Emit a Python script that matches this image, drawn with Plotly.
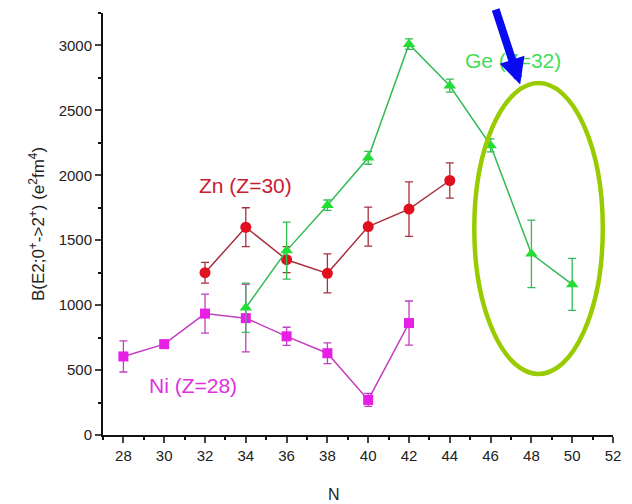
import plotly.graph_objects as go

ni_n = [28, 30, 32, 34, 36, 38, 40, 42]
ni_b = [605, 700, 935, 900, 760, 630, 270, 862]
ni_err = [120, 20, 150, 260, 70, 80, 50, 170]

zn_n = [32, 34, 36, 38, 40, 42, 44]
zn_b = [1250, 1600, 1350, 1245, 1605, 1740, 1960]
zn_err = [80, 150, 100, 150, 150, 210, 135]

ge_n = [34, 36, 38, 40, 42, 44, 46, 48, 50]
ge_b = [980, 1420, 1770, 2135, 3010, 2690, 2230, 1395, 1160]
ge_err = [190, 220, 40, 50, 40, 50, 50, 260, 200]

x_ticks = list(range(28, 53, 2))
y_ticks = list(range(0, 3001, 500))

FONT = "Arial, Liberation Sans, sans-serif"

fig = go.Figure()

def add_series(xs, ys, errs, color, line_color, symbol, size):
    fig.add_trace(go.Scatter(
        x=xs, y=ys, mode="lines+markers",
        line=dict(color=line_color, width=1.5),
        marker=dict(symbol=symbol, size=size, color=color),
        error_y=dict(type="data", array=errs, visible=True, color=line_color,
                     thickness=1.3, width=4),
        showlegend=False,
    ))

add_series(ni_n, ni_b, ni_err, "#e61ee6", "#c040c0", "square", 10)
add_series(zn_n, zn_b, zn_err, "#e0101e", "#a83040", "circle", 11)
add_series(ge_n, ge_b, ge_err, "#22dd33", "#33bb55", "triangle-up", 11)

fig.add_annotation(x=34.0, y=1920, text="Zn (Z=30)", showarrow=False,
                   font=dict(family=FONT, size=21, color="#c82030"))
fig.add_annotation(x=31.4, y=385, text="Ni (Z=28)", showarrow=False,
                   font=dict(family=FONT, size=21, color="#e030e0"))
fig.add_annotation(x=47.1, y=2885, text="Ge (Z=32)", showarrow=False,
                   font=dict(family=FONT, size=21, color="#44dd55"))
fig.add_annotation(x=0.452, y=-0.165, xref="paper", yref="paper", text="N",
                   showarrow=False, font=dict(family=FONT, size=16, color="#222"))

fig.add_shape(type="circle", xref="x", yref="y",
              x0=45.2, x1=51.5, y0=470, y1=2710,
              line=dict(color="#99cc00", width=4.5))

fig.add_annotation(x=47.45, y=2700, ax=-25, ay=-92, text="", showarrow=True,
                   arrowhead=2, arrowsize=0.65, arrowwidth=8, arrowcolor="#0a0af0")

axis_font = dict(family=FONT, size=15, color="#222")
fig.update_xaxes(range=[27, 52], tickvals=x_ticks, ticks="outside", ticklen=6,
                 tickwidth=1.5, showline=True, linecolor="#111", linewidth=2,
                 showgrid=False, zeroline=False, tickfont=axis_font,
                 minor=dict(dtick=1, tick0=27, ticks="outside", ticklen=3, tickcolor="#111"))
fig.update_yaxes(range=[0, 3250], tickvals=y_ticks, ticks="outside", ticklen=6,
                 tickwidth=1.5, showline=True, linecolor="#111", linewidth=2,
                 showgrid=False, zeroline=False, tickfont=axis_font,
                 minor=dict(dtick=250, tick0=0, ticks="outside", ticklen=3, tickcolor="#111"),
                 title=dict(text="B(E2;0<sup>+</sup>->2<sup>+</sup>) (e<sup>2</sup>fm<sup>4</sup>)",
                            font=dict(family=FONT, size=17, color="#222"),
                            standoff=10))

fig.update_layout(width=632, height=504, plot_bgcolor="white", paper_bgcolor="white",
                  margin=dict(l=95, r=27, t=5, b=77))

fig.write_html("out.html")
